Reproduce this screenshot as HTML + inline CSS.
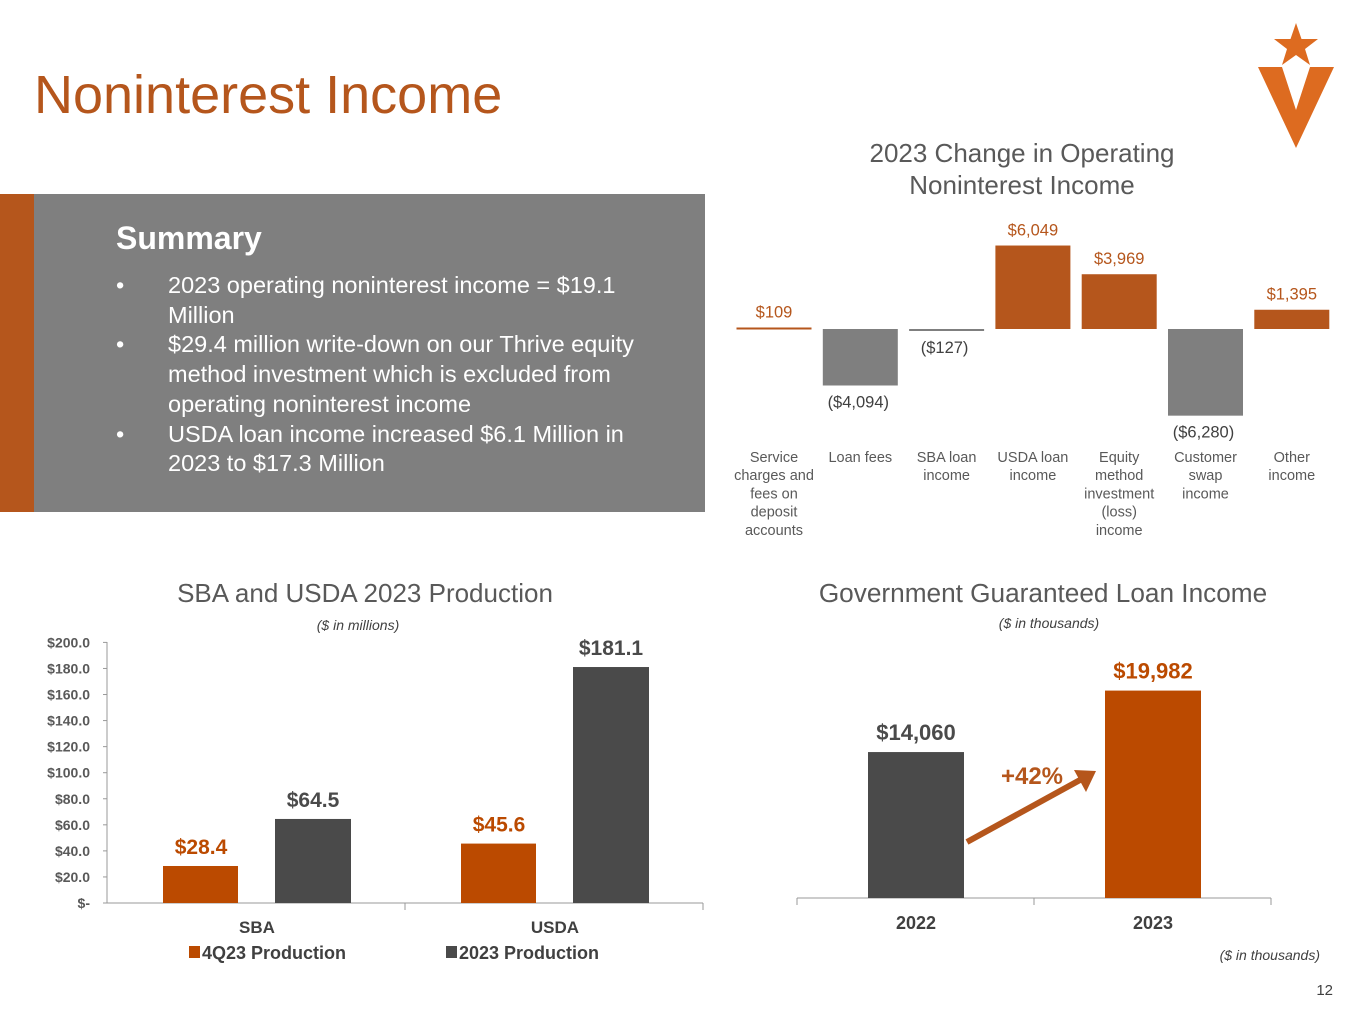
<!DOCTYPE html>
<html><head><meta charset="utf-8"><style>
body{margin:0;width:1365px;height:1024px;background:#fff;overflow:hidden;font-family:"Liberation Sans",sans-serif;position:relative}
.abs{position:absolute}
</style></head><body>
<div class="abs" style="left:34px;top:64px;font-size:54px;color:#b5561c;">Noninterest Income</div>
<svg class="abs" style="left:1255px;top:20px" width="82" height="132" viewBox="0 0 82 132">
<polygon points="41,3 46.5,19 63,19 50,29 55,45 41,35 27,45 32,29 19,19 35.5,19" fill="#dd6b20"/>
<polygon points="3,47 27,47 41,90 55,47 79,47 41,128" fill="#dd6b20"/>
</svg>
<div class="abs" style="left:0;top:194px;width:34px;height:318px;background:#b5561c"></div>
<div class="abs" style="left:34px;top:194px;width:671px;height:318px;background:#7f7f7f;color:#fff">
<div style="position:absolute;left:82px;top:26px;font-size:32px;font-weight:bold">Summary</div>
<div style="position:absolute;left:82px;top:77px;width:560px;font-size:23.5px;line-height:29.7px">
<div style="display:flex"><span style="width:52px">•</span><span style="flex:1">2023 operating noninterest income = $19.1 Million</span></div>
<div style="display:flex"><span style="width:52px">•</span><span style="flex:1">$29.4 million write-down on our Thrive equity method investment which is excluded from operating noninterest income</span></div>
<div style="display:flex"><span style="width:52px">•</span><span style="flex:1">USDA loan income increased $6.1 Million in 2023 to $17.3 Million</span></div>
</div></div>

<svg class="abs" style="left:0;top:0" width="1365" height="1024" id="charts"></svg>
<script>
// Waterfall chart data
const wfCats=["Service\ncharges and\nfees on\ndeposit\naccounts","Loan fees","SBA loan\nincome","USDA loan\nincome","Equity\nmethod\ninvestment\n(loss)\nincome","Customer\nswap\nincome","Other\nincome"];
const wfVals=[109,-4094,-127,6049,3969,-6280,1395];
const wfLabels=["$109","($4,094)","($127)","$6,049","$3,969","($6,280)","$1,395"];
// Production chart data
const prodCats=["SBA","USDA"];
const prod4Q=[28.4,45.6];
const prod2023=[64.5,181.1];
const prodTicks=[0,20,40,60,80,100,120,140,160,180,200];
const prodTickLabels=["$-","$20.0","$40.0","$60.0","$80.0","$100.0","$120.0","$140.0","$160.0","$180.0","$200.0"];
// Gov guaranteed
const govCats=["2022","2023"];
const govVals=[14060,19982];
const govLabels=["$14,060","$19,982"];

const svg=document.getElementById('charts');const NS='http://www.w3.org/2000/svg';
function mk(tag,attrs,name,txt){const e=document.createElementNS(NS,tag);for(const k in attrs)e.setAttribute(k,attrs[k]);


if(txt!==undefined)e.textContent=txt;svg.appendChild(e);return e;}
const OR='#b5561c',GR='#7f7f7f',DK='#4a4a4a',DO='#bb4a00';

mk('text',{x:1022,y:162,'text-anchor':'middle','font-size':26,fill:'#595959'},'waterfall-title','2023 Change in Operating');
mk('text',{x:1022,y:194,'text-anchor':'middle','font-size':26,fill:'#595959'},'waterfall-title-line2','Noninterest Income');
const wfY0=329,wfS=0.0138,wfX=c=>774+c*86.3,wfW=75;
const wfY=v=>wfY0-v*wfS;
wfVals.forEach((v,i)=>{const x=wfX(i),col=v>=0?OR:GR;
 let top=Math.min(wfY(v),wfY0),h=Math.max(Math.abs(v*wfS),2);
 mk('rect',{x:x-wfW/2,y:top,width:wfW,height:h,fill:col},'waterfall-bar-'+i);
 const ly=v>=0?wfY(v)-10:wfY(v)+22;
 mk('text',{x:x+(v<0?-2:0),y:ly,'text-anchor':'middle','font-size':16.5,fill:v>=0?OR:'#404040'},'waterfall-value-'+i,wfLabels[i]);
 wfCats[i].split('\n').forEach((l,j)=>mk('text',{x:x,y:462+j*18.2,'text-anchor':'middle','font-size':14.5,fill:'#595959'},'waterfall-category-'+i,l));
});

mk('text',{x:365,y:602,'text-anchor':'middle','font-size':26,fill:'#595959'},'production-title','SBA and USDA 2023 Production');
mk('text',{x:358,y:630,'text-anchor':'middle','font-size':14,'font-style':'italic',fill:'#404040'},'production-subtitle','($ in millions)');
const pY=v=>903-v*1.303,pAx=107;
mk('line',{x1:pAx,y1:642,x2:pAx,y2:903,stroke:'#999'},'production-y-axis');
mk('line',{x1:pAx,y1:903,x2:703,y2:903,stroke:'#999'},'production-x-axis');
mk('line',{x1:405,y1:903,x2:405,y2:910,stroke:'#999'},'production-x-tick');
mk('line',{x1:703,y1:903,x2:703,y2:910,stroke:'#999'},'production-x-tick');
prodTicks.forEach((t,i)=>{mk('line',{x1:pAx-4,y1:pY(t),x2:pAx,y2:pY(t),stroke:'#999'},'production-y-tick');
 mk('text',{x:90,y:pY(t)+5,'text-anchor':'end','font-size':14,'font-weight':'bold',fill:'#595959'},'production-y-tick-label',prodTickLabels[i]);});
prodCats.forEach((c,i)=>{const cx=257+i*298;
 const v1=prod4Q[i],v2=prod2023[i];
 mk('rect',{x:cx-94,y:pY(v1),width:75,height:903-pY(v1),fill:DO},'bar-4q23-'+c.toLowerCase());
 mk('rect',{x:cx+18,y:pY(v2),width:76,height:903-pY(v2),fill:DK},'bar-2023-'+c.toLowerCase());
 mk('text',{x:cx-56,y:pY(v1)-12,'text-anchor':'middle','font-size':21,'font-weight':'bold',fill:DO},'value-4q23-'+c.toLowerCase(),'$'+v1.toFixed(1));
 mk('text',{x:cx+56,y:pY(v2)-12,'text-anchor':'middle','font-size':21,'font-weight':'bold',fill:DK},'value-2023-'+c.toLowerCase(),'$'+v2.toFixed(1));
 mk('text',{x:cx,y:933,'text-anchor':'middle','font-size':17,'font-weight':'bold',fill:'#404040'},'production-category-'+c.toLowerCase(),c);
});
mk('rect',{x:189,y:946,width:11,height:12,fill:DO},'legend-swatch-4q23');
mk('text',{x:202,y:959,'font-size':18,'font-weight':'bold',fill:'#404040'},'legend-4q23','4Q23 Production');
mk('rect',{x:446,y:946,width:11,height:12,fill:DK},'legend-swatch-2023');
mk('text',{x:459,y:959,'font-size':18,'font-weight':'bold',fill:'#404040'},'legend-2023','2023 Production');

mk('text',{x:1043,y:602,'text-anchor':'middle','font-size':26.2,fill:'#595959'},'gov-title','Government Guaranteed Loan Income');
mk('text',{x:1049,y:628,'text-anchor':'middle','font-size':14,'font-style':'italic',fill:'#404040'},'gov-subtitle','($ in thousands)');
const gY=v=>898-v*0.01038;
mk('line',{x1:797,y1:898,x2:1271,y2:898,stroke:'#999'},'gov-x-axis');
[797,1034,1271].forEach(x=>mk('line',{x1:x,y1:898,x2:x,y2:905,stroke:'#999'},'gov-x-tick'));
govCats.forEach((c,i)=>{const cx=916+i*237,col=i?DO:DK;
 mk('rect',{x:cx-48,y:gY(govVals[i]),width:96,height:898-gY(govVals[i]),fill:col},'gov-bar-'+c);
 mk('text',{x:cx,y:gY(govVals[i])-12,'text-anchor':'middle','font-size':22,'font-weight':'bold',fill:i?DO:DK},'gov-value-'+c,govLabels[i]);
 mk('text',{x:cx,y:929,'text-anchor':'middle','font-size':18,'font-weight':'bold',fill:'#404040'},'gov-category-'+c,c);
});
mk('line',{x1:967,y1:842,x2:1080,y2:780,stroke:OR,'stroke-width':6},'growth-arrow');
mk('polygon',{points:'1096,771 1074,770 1086,792',fill:OR},'growth-arrow-head');
mk('text',{x:1032,y:784,'text-anchor':'middle','font-size':24,'font-weight':'bold',fill:OR},'growth-label','+42%');
mk('text',{x:1320,y:960,'text-anchor':'end','font-size':14,'font-style':'italic',fill:'#404040'},'gov-footnote','($ in thousands)');
mk('text',{x:1333,y:995,'text-anchor':'end','font-size':15,fill:'#404040'},'page-number','12');
</script>
</body></html>
